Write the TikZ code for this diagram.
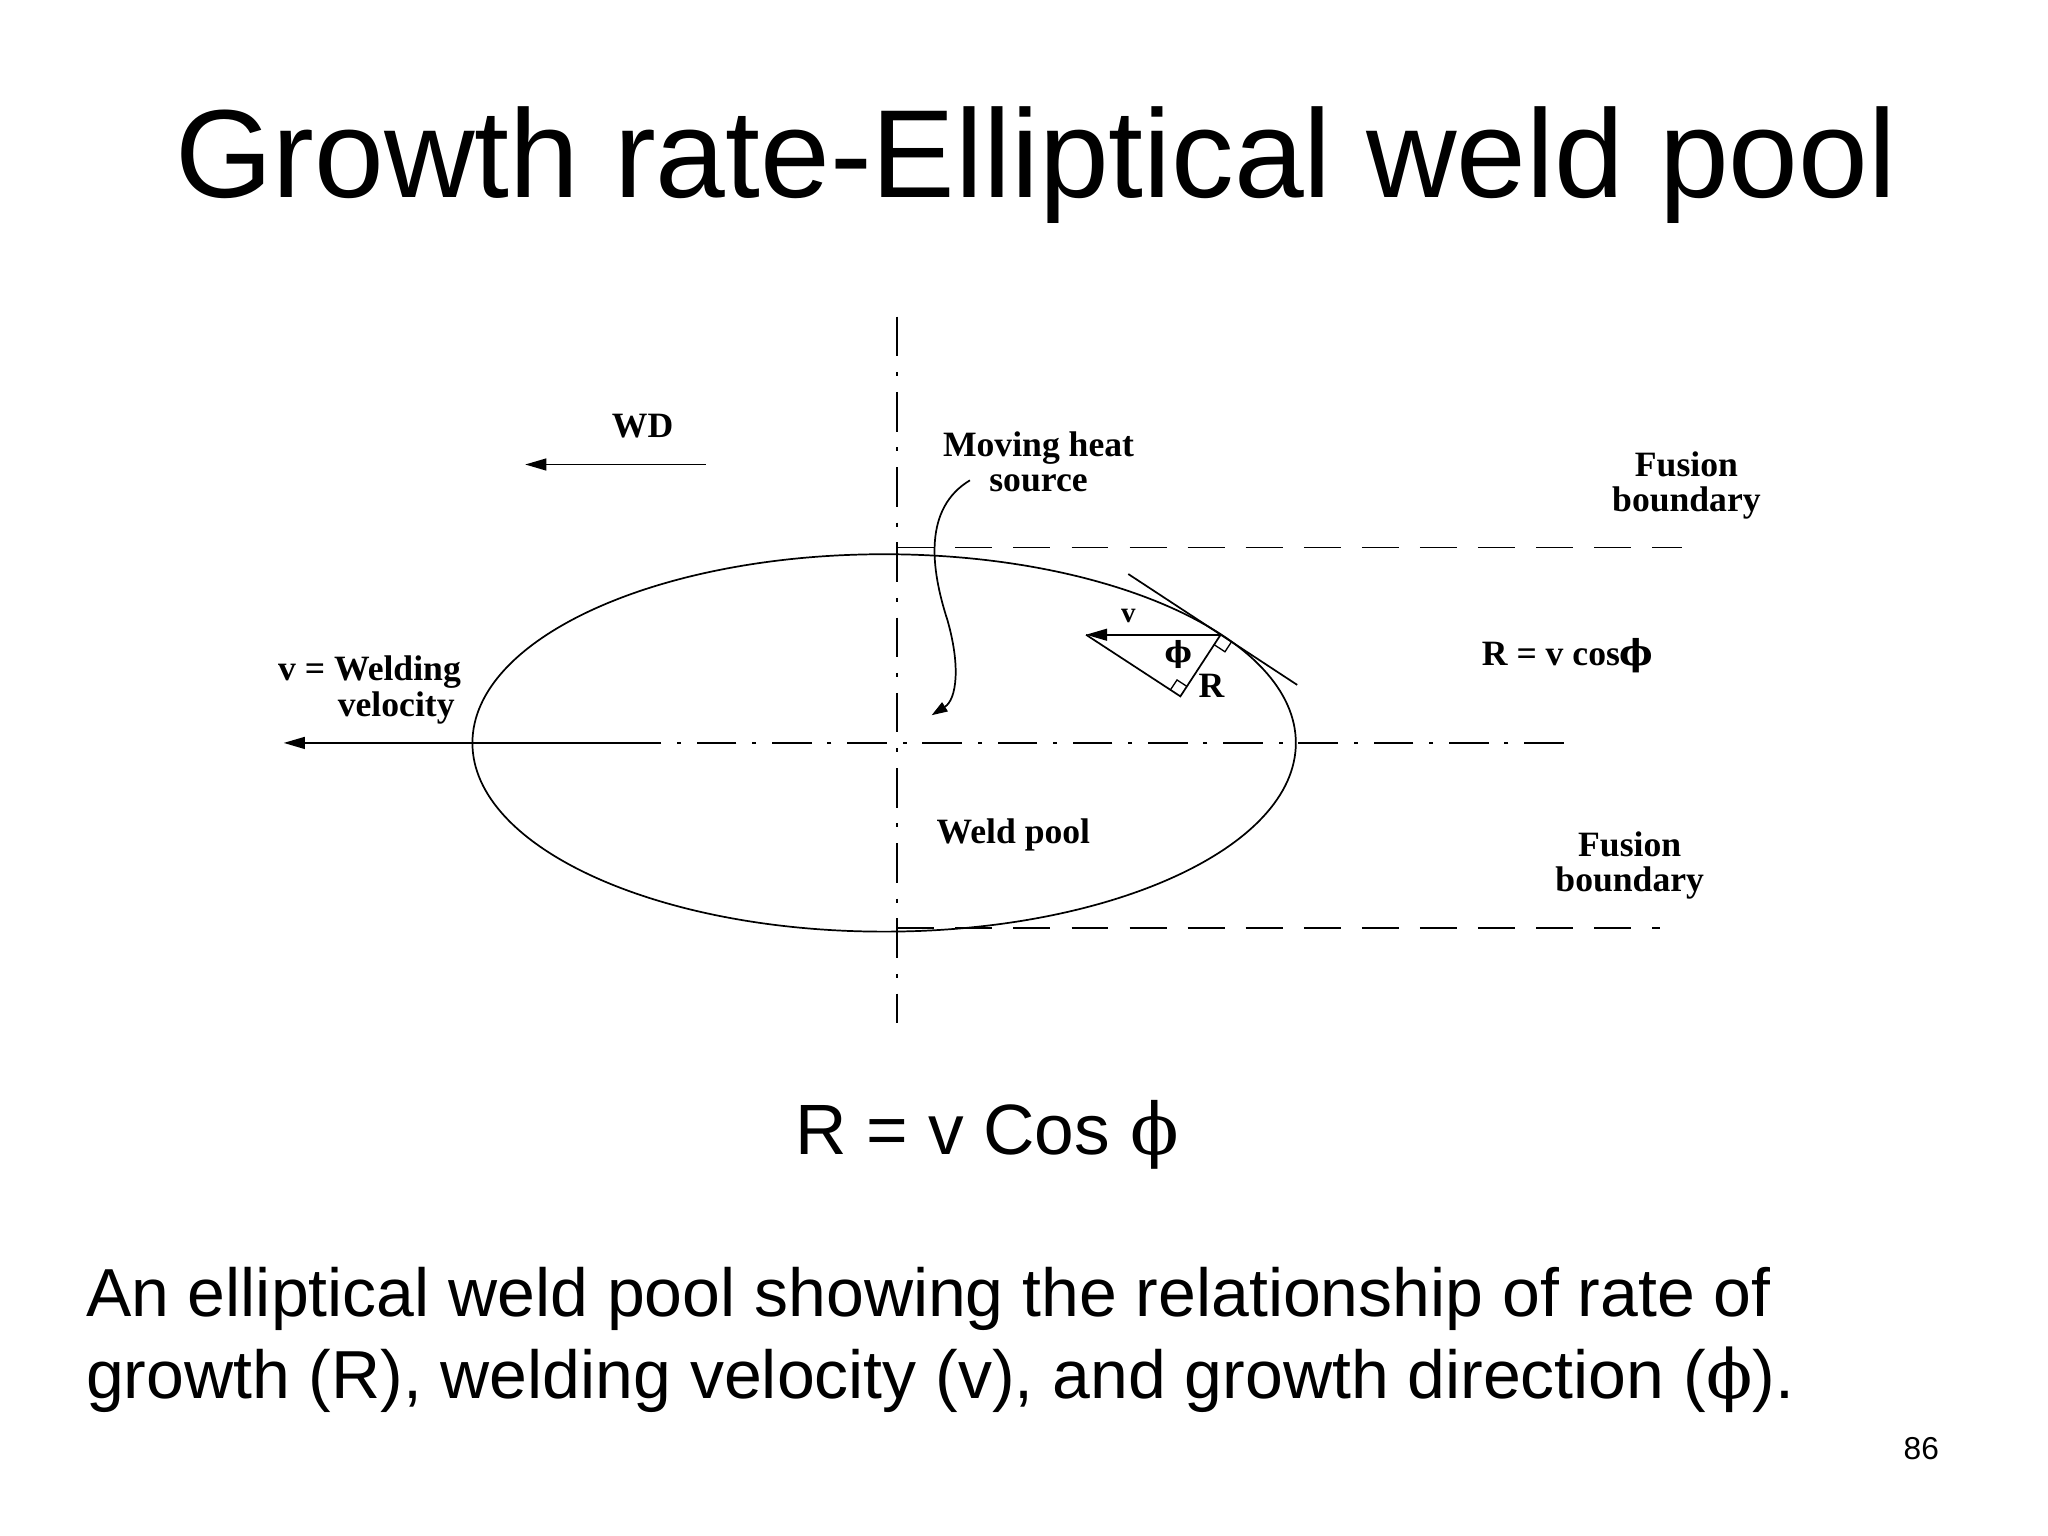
\documentclass[tikz,border=0pt]{standalone}
\usepackage{fontspec}
\setmainfont{Liberation Sans}
\newfontfamily\lab{Liberation Serif}
\newfontfamily\gr{DejaVu Serif}
\usetikzlibrary{arrows.meta,calc}
\begin{document}
\begin{tikzpicture}[x=1pt,y=-1pt,
  lbl/.style={font=\lab\bfseries\fontsize{27}{27}\selectfont,align=center,inner sep=0pt},
  dd/.style={line width=1.3pt,dash pattern=on 30pt off 12pt on 3pt off 12pt},
  fb/.style={line width=1.3pt,dash pattern=on 28pt off 16pt},
  ln/.style={line width=1.3pt},
  arr/.style={ln,-{Triangle[length=16pt,width=9pt]}}]
\useasboundingbox (0,0) rectangle (1552,1164);
\node[font=\fontsize{95}{95}\selectfont,anchor=base] (title) at (785,150) {Growth rate-Elliptical weld pool};
% axes
\coordinate (vt) at (680,240); \coordinate (vb) at (680,775);
\draw[dd] (vt) -- (vb);
\draw[ln] (670,563) ellipse [x radius=312, y radius=143];
\coordinate (hr) at (1185,563); \coordinate (hm) at (500,563); \coordinate (hl) at (215,563);
\draw[dd] (hr) -- (hm);
\draw[arr] (hm) -- (hl);
% fusion boundaries
\coordinate (ft1) at (680,415); \coordinate (ft2) at (1275,415);
\coordinate (fb1) at (680,703); \coordinate (fb2) at (1258,703);
\draw[fb] (ft1) -- (ft2);
\draw[fb] (fb1) -- (fb2);
% WD
\coordinate (wd1) at (535,352); \coordinate (wd2) at (398,352);
\draw[arr] (wd1) -- (wd2);
\node[lbl] (wd) at (487,323) {WD};
\node[lbl] (mhs) at (787,350) {Moving heat\\source};
\coordinate (mhe) at (706,542);
\draw[ln,-{Triangle[length=12pt,width=8pt]}] (735,364) .. controls (700,385) and (705,430) .. (718,470) .. controls (728,505) and (725,530) .. (mhe);
\node[lbl] (fbt) at (1278,368) {Fusion\\boundary};
\node[lbl] (fbb) at (1235,656) {Fusion\\boundary};
\node[lbl] (rv) at (1188,497) {R = v cos{\gr ϕ}};
\node[lbl] (vel) at (280,523) {v = Welding\\\hspace*{1.5em}velocity};
\node[lbl] (wp) at (768,633) {Weld pool};
% triangle
\coordinate (P) at (925,481);
\coordinate (V) at (823,481);
\coordinate (Q) at (894.5,527.7);
\draw[ln] (855,435) -- (983,519);
\draw[arr] (P) -- (V);
\draw[ln] (P) -- (Q) -- (V);
\draw[line width=1pt] ($(P)!9pt!(Q)$) -- ++(8.2,5.4) -- ($(P)+(8.2,5.4)$);
\draw[line width=1pt] ($(Q)!9pt!(V)$) -- ++(5,-7.5) -- ($(Q)+(5,-7.5)$);
\node[lbl,font=\lab\bfseries\fontsize{22}{22}\selectfont] (lv) at (855,467) {v};
\node[lbl,font=\gr\bfseries\fontsize{22}{22}\selectfont] (lphi) at (893,496) {ϕ};
\node[lbl] (lR) at (918,520) {R};
% equation & caption
\node[font=\fontsize{54}{54}\selectfont,anchor=base] (eq) at (748,875) {R = v Cos {\gr ϕ}};
\node[font=\fontsize{51.5}{62}\selectfont,anchor=north west,align=left,inner sep=0pt] (cap) at (65,960) {An elliptical weld pool showing the relationship of rate of\\growth (R), welding velocity (v), and growth direction ({\gr ϕ}).};
\node[font=\fontsize{24}{24}\selectfont] (pg) at (1456,1098) {86};
\end{tikzpicture}
\end{document}
